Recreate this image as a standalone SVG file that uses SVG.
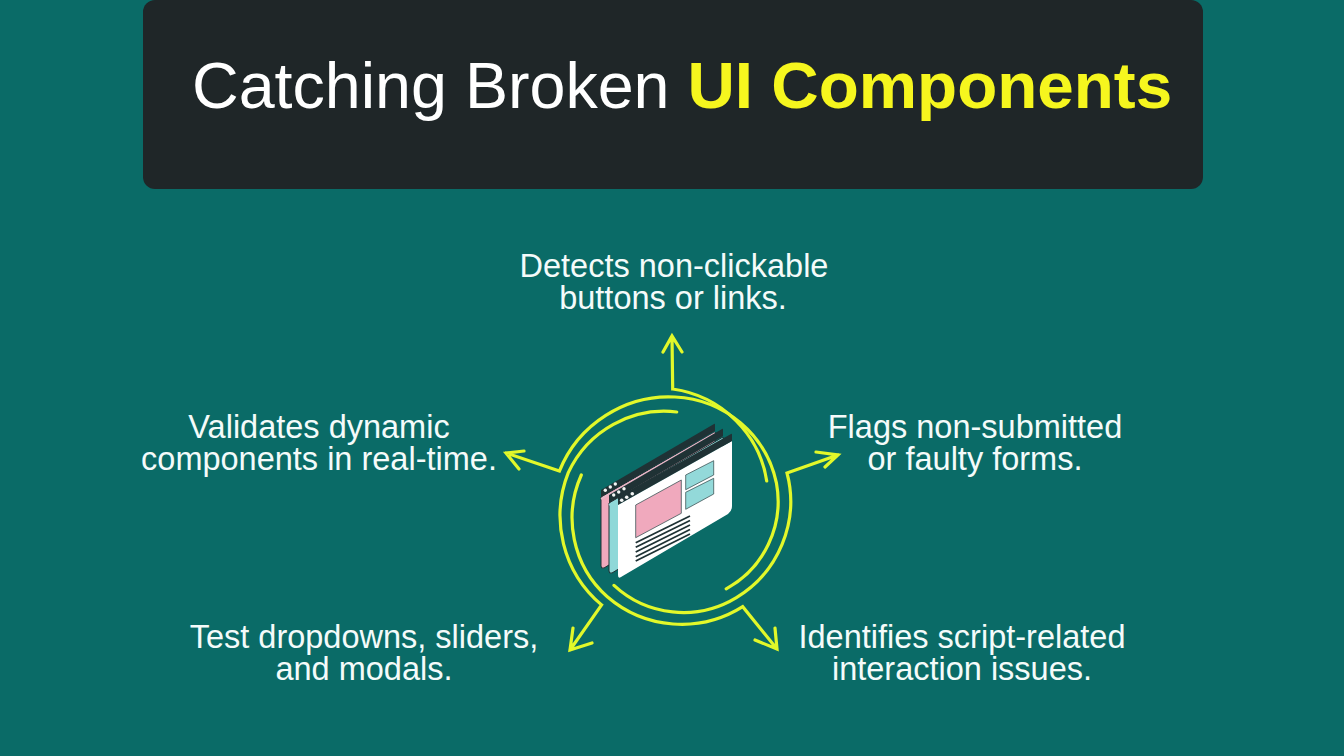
<svg xmlns="http://www.w3.org/2000/svg" width="1344" height="756" viewBox="0 0 1344 756">
<style>
.bg{fill:#0a6b67}
.t{font-family:"Liberation Sans",Arial,sans-serif;font-size:32.5px;fill:#f4fbfa;text-anchor:middle}
.title{font-family:"Liberation Sans",Arial,sans-serif;font-size:64.6px;fill:#fff}
.hl{fill:#f6f61e;font-weight:bold;font-size:65.6px}
.c{fill:none;stroke:#e2f82a;stroke-width:3.2;stroke-linecap:round;stroke-linejoin:miter}
.d{fill:#1f3235}
.l{stroke:#1f3235;stroke-width:1.8;fill:none}
.dot{fill:#f2f5f4}
</style>
<rect class="bg" width="1344" height="756"/>
<g id="header">
<rect x="143" y="0" width="1060" height="189" rx="12" fill="#1f2628"/>
<text class="title" x="192" y="108">Catching Broken <tspan class="hl">UI Components</tspan></text>
</g>
<g id="connectors">
<path class="c" d="M672,336 L672.7,389 C722.9,396.1 759.9,435.4 766.7,481 M663,352 L672,336 L682,352"/>
<path class="c" d="M506,453 L559.4,471.1 C578.2,424 625.8,394.2 675,397 C725.1,399.5 766.2,435.1 776.4,482.8 C784.5,526.2 763.4,568.7 726.2,588.8 M524,451 L506,453 L519,469"/>
<path class="c" d="M838,455 L787,473 C799.8,521.6 778.2,572.5 736.4,597.6 C696.7,621.7 646.7,615.8 614,585.4 M816,452 L838,455 L825,467"/>
<path class="c" d="M777,649 L742.7,606.7 C699.7,633.8 644.7,629 607.3,596.7 C572.4,565.7 562.9,515.9 581.3,475 M755,640 L777,649 L775,628"/>
<path class="c" d="M570,650 L601.6,604.9 C562.7,572.2 550,518.7 568.3,472.7 C588.1,430.1 632.6,406.7 676.7,412 M592,643 L570,650 L573,628"/>
</g>
<g id="windows">
<g id="window-back">
<path d="M601,497 L715,432 V500 L604,568 Q601,569 601,566 Z" fill="#f0a9bd" stroke="#1f3235" stroke-width="1"/>
<path class="d" d="M601,490 L714,424 Q715,423 715,425 V431 L601,497 Z"/>
<path d="M601,499 L715,433" stroke="#e6b8c8" stroke-width="1.6"/>
<circle class="dot" cx="605.3" cy="490.3" r="1.7"/><circle class="dot" cx="610.3" cy="487" r="1.7"/><circle class="dot" cx="615.3" cy="484" r="1.7"/>
</g>
<g id="window-mid">
<path d="M609,503 L723,437 V505 L612,573 Q609,574 609,571 Z" fill="#8fd8d8" stroke="#1f3235" stroke-width="1"/>
<path class="d" d="M609,495 L722,429 Q723,428 723,430 V436 L609,503 Z"/>
<path d="M609,505 L723,439" stroke="#8fd8d8" stroke-width="1.6"/>
<circle class="dot" cx="613.7" cy="495" r="1.7"/><circle class="dot" cx="618.7" cy="492" r="1.7"/><circle class="dot" cx="624" cy="488.7" r="1.7"/>
</g>
<g id="window-front">
<path d="M618,505 L732,441 V506 Q732,511 728,514 L621,577 Q618,579 618,575 Z" fill="#fff"/>
<path class="d" d="M618,497 L731,434 Q732,433 732,435 V441 L618,505 Z"/>
<circle class="dot" cx="621.7" cy="500.3" r="1.8"/><circle class="dot" cx="626.7" cy="497.3" r="1.8"/><circle class="dot" cx="632.3" cy="493.7" r="1.8"/>
<path d="M635.7,505 L681.3,480 V513.3 L635.7,537.7 Z" fill="#f0a9bd" stroke="#3f5558" stroke-width="0.8"/>
<path d="M685.7,475 L713.7,460.7 V475 L685.7,489.7 Z" fill="#93d9d9" stroke="#3f5558" stroke-width="0.8"/>
<path d="M685.7,492.3 L713.7,478.3 V494 L685.7,509.3 Z" fill="#93d9d9" stroke="#3f5558" stroke-width="0.8"/>
<path class="l" d="M635.7,542.7 L690,516 M635.7,547.3 L690,520.5 M635.7,552 L690,525 M635.7,556.7 L690,529.5 M635.7,561 L690,534"/>
</g>
</g>
<g id="node-top"><text class="t" x="674" y="277">Detects non-clickable</text><text class="t" x="673" y="309">buttons or links.</text></g>
<g id="node-left"><text class="t" x="319" y="438">Validates dynamic</text><text class="t" x="319" y="470">components in real-time.</text></g>
<g id="node-right"><text class="t" x="975" y="438">Flags non-submitted</text><text class="t" x="975" y="470">or faulty forms.</text></g>
<g id="node-bottom-left"><text class="t" x="364" y="648">Test dropdowns, sliders,</text><text class="t" x="364" y="680">and modals.</text></g>
<g id="node-bottom-right"><text class="t" x="962" y="648">Identifies script-related</text><text class="t" x="962" y="680">interaction issues.</text></g>
</svg>
